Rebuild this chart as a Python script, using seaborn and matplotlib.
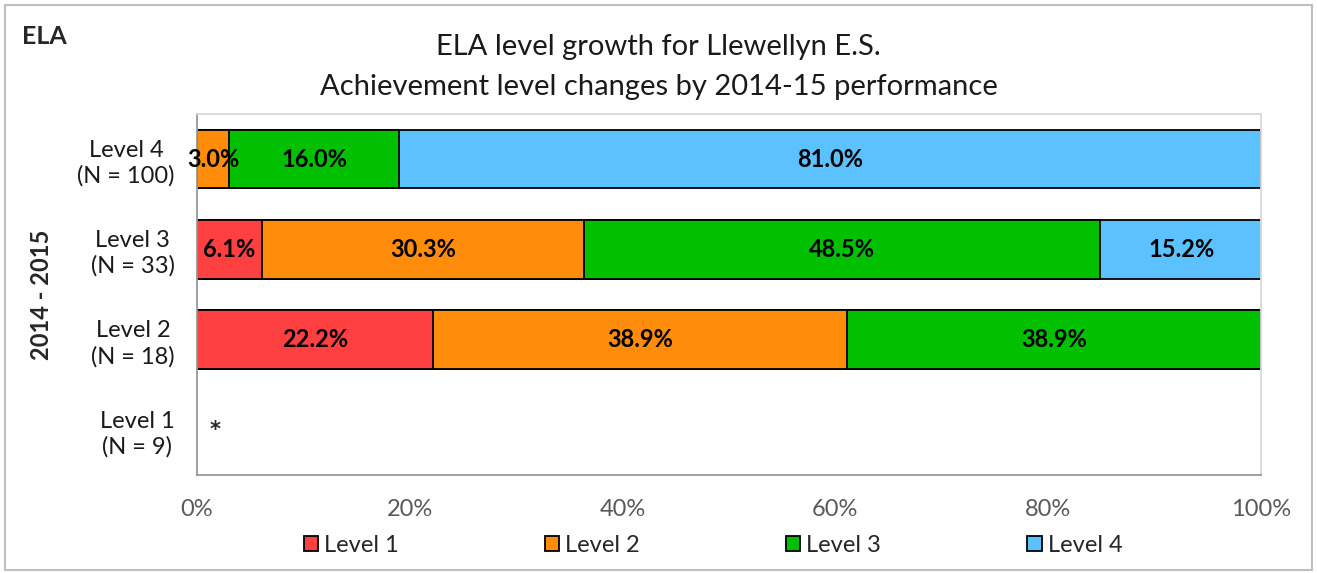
import matplotlib
matplotlib.use("Agg")
import matplotlib.pyplot as plt
import seaborn as sns
import pandas as pd
import numpy as np
from matplotlib.patches import Rectangle

# ---- data ----
rows = ["Level 4\n(N = 100)", "Level 3\n(N = 33)", "Level 2\n(N = 18)", "Level 1\n(N = 9)"]
series = ["Level 1", "Level 2", "Level 3", "Level 4"]
level1 = [0.0, 6.1, 22.2, 0.0]
level2 = [3.0, 30.3, 38.9, 0.0]
level3 = [16.0, 48.5, 38.9, 0.0]
level4 = [81.0, 15.2, 0.0, 0.0]
colors = ["#FF4040", "#FF8C0A", "#00C000", "#5BC2FF"]
xticks = [0, 20, 40, 60, 80, 100]
xticklabels = ["0%", "20%", "40%", "60%", "80%", "100%"]

sns.set_theme(style="white")
plt.rcParams["font.family"] = ["Lato", "DejaVu Sans"]

fig = plt.figure(figsize=(13.17, 5.73), dpi=100)
ax = fig.add_axes([197/1317, (573-475)/573, (1261-197)/1317, (475-114)/573])

vals = np.array([level1, level2, level3, level4])
cum = np.cumsum(vals, axis=0)

# draw cumulative bars back-to-front for stacking
for i in range(len(series) - 1, -1, -1):
    df = pd.DataFrame({"row": rows, "val": cum[i]})
    sns.barplot(data=df, x="val", y="row", order=rows, color=colors[i],
                orient="h", width=0.65, edgecolor="black", linewidth=1.3,
                saturation=1, ax=ax)

for p in ax.patches:
    if p.get_width() <= 0:
        p.set_visible(False)

# data labels
for i in range(len(series)):
    for j, r in enumerate(rows):
        v = vals[i, j]
        if v > 0:
            center = cum[i, j] - v / 2
            ax.text(center, j, f"{v:.1f}%", ha="center", va="center",
                    fontsize=17, fontweight="bold", color="black")
ax.text(1.7, 3.0, "*", ha="center", va="center", fontsize=15, fontweight="bold",
        family="DejaVu Sans")

ax.set_xlim(0, 100)
ax.set_ylim(3.5, -0.5)
ax.set_xticks(xticks)
ax.set_xticklabels(xticklabels, fontsize=17, color="#595959")
ax.tick_params(axis="x", length=0, pad=17)
ax.set_yticks(range(len(rows)))
ax.set_yticklabels(rows, fontsize=17, color="#1a1a1a", multialignment="center",
                   linespacing=1.25)
ax.tick_params(axis="y", which="major", length=0, pad=16)
ax.set_yticks([-0.5, 0.5, 1.5, 2.5, 3.5], minor=True)
ax.tick_params(axis="y", which="minor", length=6, color="#999999", width=1.2)
ax.set_xlabel("")
ax.set_ylabel("2014 - 2015", fontsize=17, fontweight="bold")
ax.yaxis.set_label_coords((53 - 197) / (1261 - 197), 0.5)

for s in ["left", "bottom"]:
    ax.spines[s].set_color("#999999")
    ax.spines[s].set_linewidth(1.3)
for s in ["top", "right"]:
    ax.spines[s].set_color("#d9d9d9")
    ax.spines[s].set_linewidth(1.3)

# title
fig.text(0.5, 1 - 47/573, "ELA level growth for Llewellyn E.S.", ha="center",
         va="center", fontsize=21, color="#1a1a1a")
fig.text(0.5, 1 - 87/573, "Achievement level changes by 2014-15 performance",
         ha="center", va="center", fontsize=21, color="#1a1a1a")
fig.text(22/1317, 1 - 36/573, "ELA", ha="left", va="center", fontsize=18,
         fontweight="bold")

# legend
handles = [Rectangle((0, 0), 1, 1, facecolor=c, edgecolor="black", linewidth=1.3)
           for c in colors]
fig.legend(handles, series, loc="center", bbox_to_anchor=(713/1317, 1 - 545/573),
           ncol=4, frameon=False, fontsize=17, handlelength=0.6,
           handleheight=0.6, handletextpad=0.25, columnspacing=6.2)

# outer border
fig.patches.append(Rectangle((5/1317, 3/573), 1 - 10/1317, 1 - 8/573,
                             transform=fig.transFigure, fill=False,
                             edgecolor="#bfbfbf", linewidth=1.5))

fig.savefig("out.png", dpi=100)
